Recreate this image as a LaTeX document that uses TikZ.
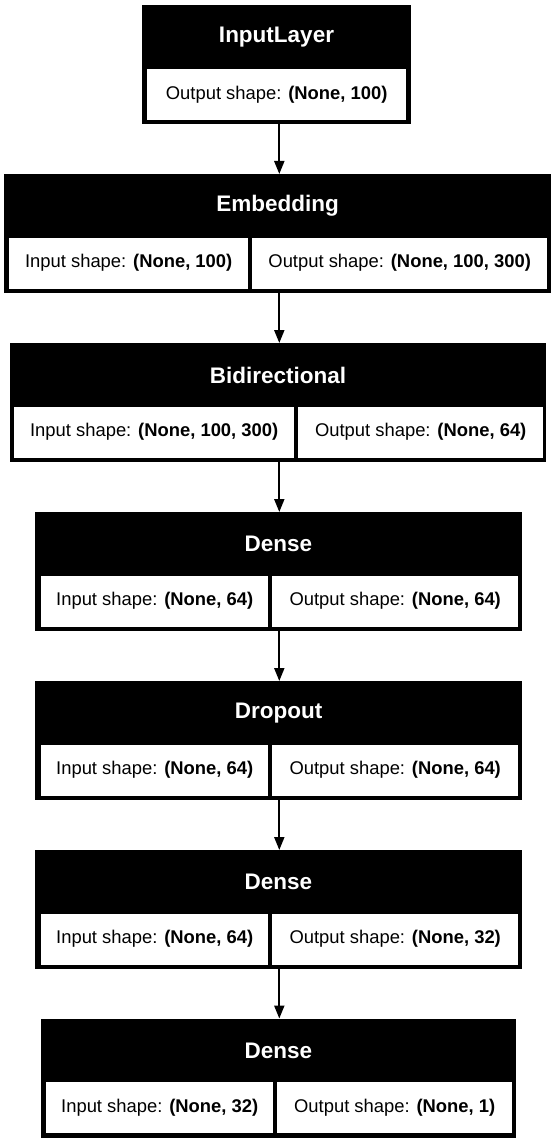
\documentclass[tikz,border=0pt]{standalone}
\usepackage{fontspec}
\setmainfont{Liberation Sans}
\usetikzlibrary{arrows.meta}
\begin{document}
\begin{tikzpicture}[x=1pt,y=-1pt,
  blk/.style={fill=black,draw=none,inner sep=0pt,minimum height=119pt,anchor=north west},
  cellbox/.style={fill=white,draw=none,inner sep=0pt,minimum height=51pt,anchor=north west,
    font=\fontsize{18.4pt}{20pt}\selectfont,text=black},
  ttl/.style={inner sep=0pt,text=white,font=\fontsize{22.5pt}{24pt}\selectfont\bfseries},
  arr/.style={draw=black,line width=2pt,-{Triangle[length=13pt,width=10pt]}}]
\useasboundingbox (0,0) rectangle (557,1142);
\fill[white] (0,0) rectangle (557,1142);
\coordinate (ax) at (279.3,0);
% Block 1: InputLayer
\node[blk,minimum width=269pt] (b1) at (142,5) {};
\node[ttl] (b1t) at (276.5,37) {InputLayer};
\node[cellbox,minimum width=259pt] (b1o) at (147,69) {Output shape: \textbf{(None, 100)}};
% Block 2: Embedding
\node[blk,minimum width=547pt] (b2) at (4,174) {};
\node[ttl] (b2t) at (277.5,206) {Embedding};
\node[cellbox,minimum width=239pt] (b2i) at (9,237.5) {Input shape: \textbf{(None, 100)}};
\node[cellbox,minimum width=295pt] (b2o) at (252,237.5) {Output shape: \textbf{(None, 100, 300)}};
% Block 3: Bidirectional
\node[blk,minimum width=536pt] (b3) at (10,343) {};
\node[ttl] (b3t) at (278,375) {Bidirectional};
\node[cellbox,minimum width=280pt] (b3i) at (14,406.5) {Input shape: \textbf{(None, 100, 300)}};
\node[cellbox,minimum width=245pt] (b3o) at (298,406.5) {Output shape: \textbf{(None, 64)}};
% Block 4: Dense
\node[blk,minimum width=487pt] (b4) at (35,512) {};
\node[ttl] (b4t) at (278.5,544) {Dense};
\node[cellbox,minimum width=227pt] (b4i) at (41,575.5) {Input shape: \textbf{(None, 64)}};
\node[cellbox,minimum width=246pt] (b4o) at (272,575.5) {Output shape: \textbf{(None, 64)}};
% Block 5: Dropout
\node[blk,minimum width=487pt] (b5) at (35,681) {};
\node[ttl] (b5t) at (278.5,713) {Dropout};
\node[cellbox,minimum width=227pt] (b5i) at (41,744.5) {Input shape: \textbf{(None, 64)}};
\node[cellbox,minimum width=246pt] (b5o) at (272,744.5) {Output shape: \textbf{(None, 64)}};
% Block 6: Dense
\node[blk,minimum width=487pt] (b6) at (35,850) {};
\node[ttl] (b6t) at (278.5,882) {Dense};
\node[cellbox,minimum width=227pt] (b6i) at (41,913.5) {Input shape: \textbf{(None, 64)}};
\node[cellbox,minimum width=246pt] (b6o) at (272,913.5) {Output shape: \textbf{(None, 32)}};
% Block 7: Dense
\node[blk,minimum width=475pt] (b7) at (41,1018.5) {};
\node[ttl] (b7t) at (278.5,1050.5) {Dense};
\node[cellbox,minimum width=227pt] (b7i) at (46,1082) {Input shape: \textbf{(None, 32)}};
\node[cellbox,minimum width=235pt] (b7o) at (277,1082) {Output shape: \textbf{(None, 1)}};
% Arrows
\draw[arr] (b1.south -| ax) -- (b2.north -| ax);
\draw[arr] (b2.south -| ax) -- (b3.north -| ax);
\draw[arr] (b3.south -| ax) -- (b4.north -| ax);
\draw[arr] (b4.south -| ax) -- (b5.north -| ax);
\draw[arr] (b5.south -| ax) -- (b6.north -| ax);
\draw[arr] (b6.south -| ax) -- (b7.north -| ax);
\end{tikzpicture}
\end{document}
